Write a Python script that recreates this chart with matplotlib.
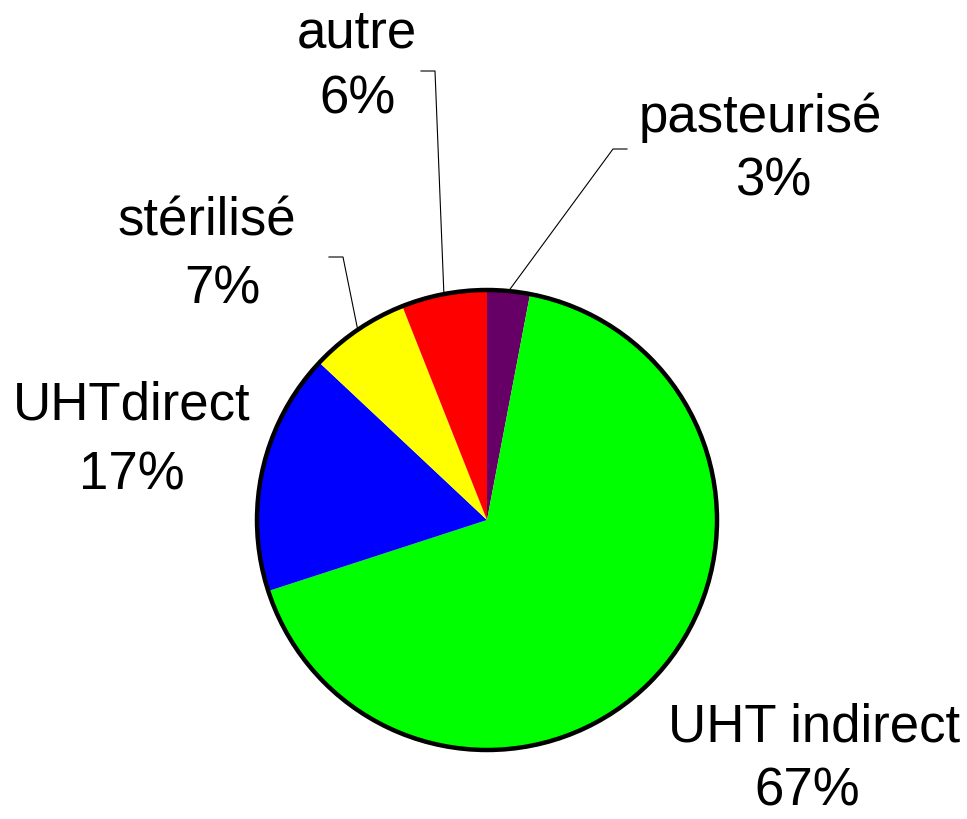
import matplotlib.pyplot as plt
import numpy as np
from matplotlib.patches import Circle

labels = ["pasteurisé", "UHT indirect", "UHTdirect", "stérilisé", "autre"]
shares = [3, 67, 17, 7, 6]
colors = ["#660066", "#00FF00", "#0000FF", "#FFFF00", "#FF0000"]

W, H = 967, 819
cx, cy, r = 487, H - 520, 230

# (name centre, percent centre) in pixels from top-left
label_pos = {
    "pasteurisé": ((760, 118), (773, 182)),
    "UHT indirect": ((814, 727), (807, 792)),
    "UHTdirect": ((132, 405), (132, 475)),
    "stérilisé": ((207, 222), (222, 290)),
    "autre": ((357, 34), (357, 100)),
}
leaders = {
    "pasteurisé": [(613, 149), (627, 149)],
    "stérilisé": [(343, 257), (329, 257)],
    "autre": [(435, 71), (421, 71)],
}

fig = plt.figure(figsize=(W / 100, H / 100), dpi=100)
ax = fig.add_axes([0, 0, 1, 1])

wedges, _ = ax.pie(shares, colors=colors, startangle=90, counterclock=False,
                   center=(cx, cy), radius=r, frame=True,
                   wedgeprops=dict(linewidth=0))
ax.set_xlim(0, W)
ax.set_ylim(0, H)
ax.set_aspect("equal")
ax.axis("off")
ax.add_patch(Circle((cx, cy), r, fill=False, lw=3.2, ec="black", zorder=5))

for w, lab, val in zip(wedges, labels, shares):
    (nx, ny), (px_, py_) = label_pos[lab]
    style = dict(ha="center", va="center", fontsize=38, family="Liberation Sans")
    ax.text(nx, H - ny, lab, **style)
    ax.text(px_, H - py_, f"{val}%", **style)
    if lab in leaders:
        mid = np.deg2rad((w.theta1 + w.theta2) / 2)
        pts = [(cx + r * np.cos(mid), cy + r * np.sin(mid))]
        pts += [(px, H - py) for px, py in leaders[lab]]
        xs, ys = zip(*pts)
        ax.plot(xs, ys, color="black", lw=0.8, zorder=4)

fig.savefig("out.png", dpi=100)
